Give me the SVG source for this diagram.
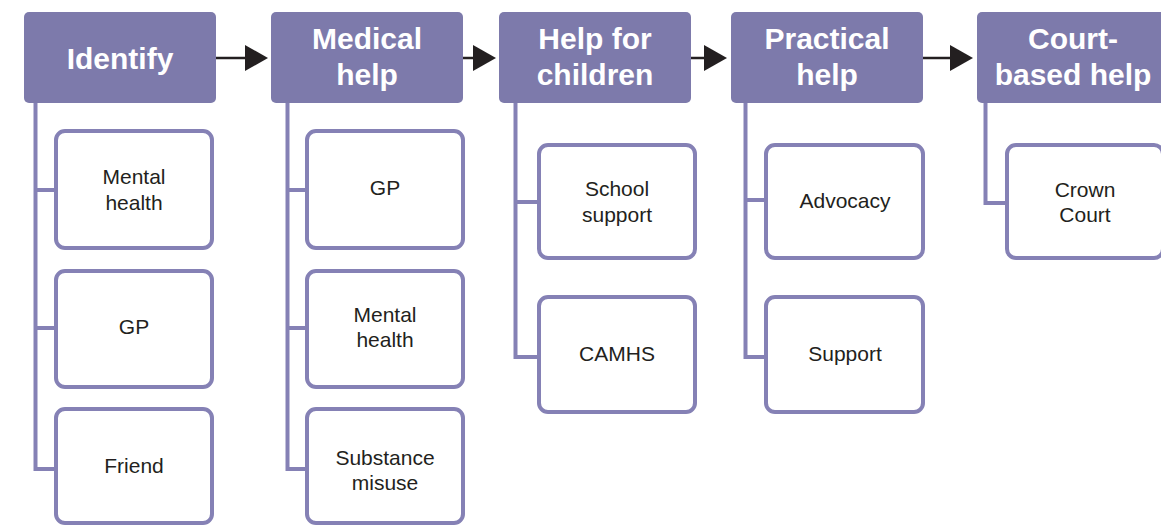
<svg xmlns="http://www.w3.org/2000/svg" width="1161" height="527" viewBox="0 0 1161 527">
<style>
.hdr{fill:#7d7aab}
.ht{fill:#fff;font-family:"Liberation Sans",Arial,sans-serif;font-weight:bold;font-size:30px;text-anchor:middle}
.box{fill:#fff;stroke:#8581b5;stroke-width:4}
.bt{fill:#231f20;font-family:"Liberation Sans",Arial,sans-serif;font-size:21px;text-anchor:middle}
.tree{fill:none;stroke:#8581b5;stroke-width:4}
.arr{fill:none;stroke:#231f20;stroke-width:2.5}
</style>
<defs>
<marker id="ah" viewBox="0 0 23 26" markerWidth="23" markerHeight="26" refX="0" refY="13" markerUnits="userSpaceOnUse" orient="auto">
<path d="M0 0 L23 13 L0 26 Z" fill="#231f20"/>
</marker>
</defs>
<rect width="1161" height="527" fill="#fff"/>
<g id="connectors">
<path class="tree" d="M35.5 103 V469 H56 M35.5 190 H56 M35.5 328 H56"/>
<path class="tree" d="M287.5 103 V469 H307 M287.5 190 H307 M287.5 328 H307"/>
<path class="tree" d="M515.5 103 V357 H539 M515.5 202 H539"/>
<path class="tree" d="M745.5 103 V357 H766 M745.5 200 H766"/>
<path class="tree" d="M985.5 103 V203 H1007"/>
<path class="arr" d="M216 58 H245" marker-end="url(#ah)"/>
<path class="arr" d="M463 58 H473" marker-end="url(#ah)"/>
<path class="arr" d="M691 58 H704" marker-end="url(#ah)"/>
<path class="arr" d="M923 58 H950" marker-end="url(#ah)"/>
</g>
<g id="identify"><rect class="hdr" x="24" y="12" width="192" height="91" rx="5"/><text class="ht" x="120" y="69">Identify</text></g>
<g id="medical"><rect class="hdr" x="271" y="12" width="192" height="91" rx="5"/><text class="ht" x="367" y="49">Medical</text><text class="ht" x="367" y="85">help</text></g>
<g id="children"><rect class="hdr" x="499" y="12" width="192" height="91" rx="5"/><text class="ht" x="595" y="49">Help for</text><text class="ht" x="595" y="85">children</text></g>
<g id="practical"><rect class="hdr" x="731" y="12" width="192" height="91" rx="5"/><text class="ht" x="827" y="49">Practical</text><text class="ht" x="827" y="85">help</text></g>
<g id="court"><rect class="hdr" x="977" y="12" width="192" height="91" rx="5"/><text class="ht" x="1073" y="49">Court-</text><text class="ht" x="1073" y="85">based help</text></g>

<g id="id-mental"><rect class="box" x="56" y="131" width="156" height="117" rx="9"/><text class="bt" x="134" y="184">Mental</text><text class="bt" x="134" y="210">health</text></g>
<g id="id-gp"><rect class="box" x="56" y="271" width="156" height="116" rx="9"/><text class="bt" x="134" y="334">GP</text></g>
<g id="id-friend"><rect class="box" x="56" y="409" width="156" height="114" rx="9"/><text class="bt" x="134" y="473">Friend</text></g>

<g id="med-gp"><rect class="box" x="307" y="131" width="156" height="117" rx="9"/><text class="bt" x="385" y="195">GP</text></g>
<g id="med-mental"><rect class="box" x="307" y="271" width="156" height="116" rx="9"/><text class="bt" x="385" y="322">Mental</text><text class="bt" x="385" y="347">health</text></g>
<g id="med-substance"><rect class="box" x="307" y="409" width="156" height="114" rx="9"/><text class="bt" x="385" y="465">Substance</text><text class="bt" x="385" y="490">misuse</text></g>

<g id="ch-school"><rect class="box" x="539" y="145" width="156" height="113" rx="9"/><text class="bt" x="617" y="196">School</text><text class="bt" x="617" y="222">support</text></g>
<g id="ch-camhs"><rect class="box" x="539" y="297" width="156" height="115" rx="9"/><text class="bt" x="617" y="361">CAMHS</text></g>

<g id="pr-advocacy"><rect class="box" x="766" y="145" width="157" height="113" rx="9"/><text class="bt" x="845" y="208">Advocacy</text></g>
<g id="pr-support"><rect class="box" x="766" y="297" width="157" height="115" rx="9"/><text class="bt" x="845" y="361">Support</text></g>

<g id="co-crown"><rect class="box" x="1007" y="145" width="156" height="113" rx="9"/><text class="bt" x="1085" y="197">Crown</text><text class="bt" x="1085" y="222">Court</text></g>
</svg>
